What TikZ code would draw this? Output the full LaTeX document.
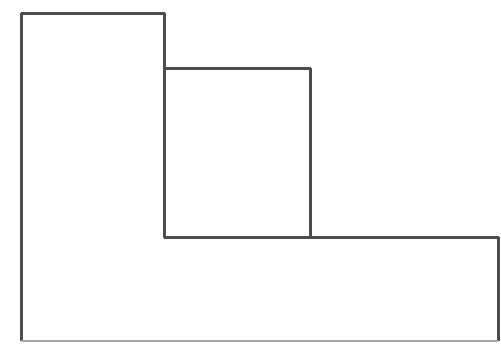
\documentclass[tikz,border=0pt]{standalone}
\begin{document}
\begin{tikzpicture}[x=1pt,y=-1pt,
  outline/.style={draw=black!70, line width=3pt, line join=round}]
\useasboundingbox (0,0) rectangle (501,343);
\fill[white] (0,0) rectangle (501,343);
\coordinate (a) at (21,13);
\coordinate (b) at (164,13);
\coordinate (c) at (164,237);
\coordinate (d) at (498,237);
\coordinate (e) at (498,341);
\coordinate (f) at (21,341);
\draw[outline] (a) -- (b) -- (c) -- (d) -- (e);
\draw[outline] (a) -- (f);
\draw[draw=black!35, line width=2pt] (f) -- (e);
\coordinate (s1) at (164,68);
\coordinate (s2) at (310,68);
\coordinate (s3) at (310,237);
\draw[outline] (s1) -- (s2) -- (s3);
\end{tikzpicture}
\end{document}
